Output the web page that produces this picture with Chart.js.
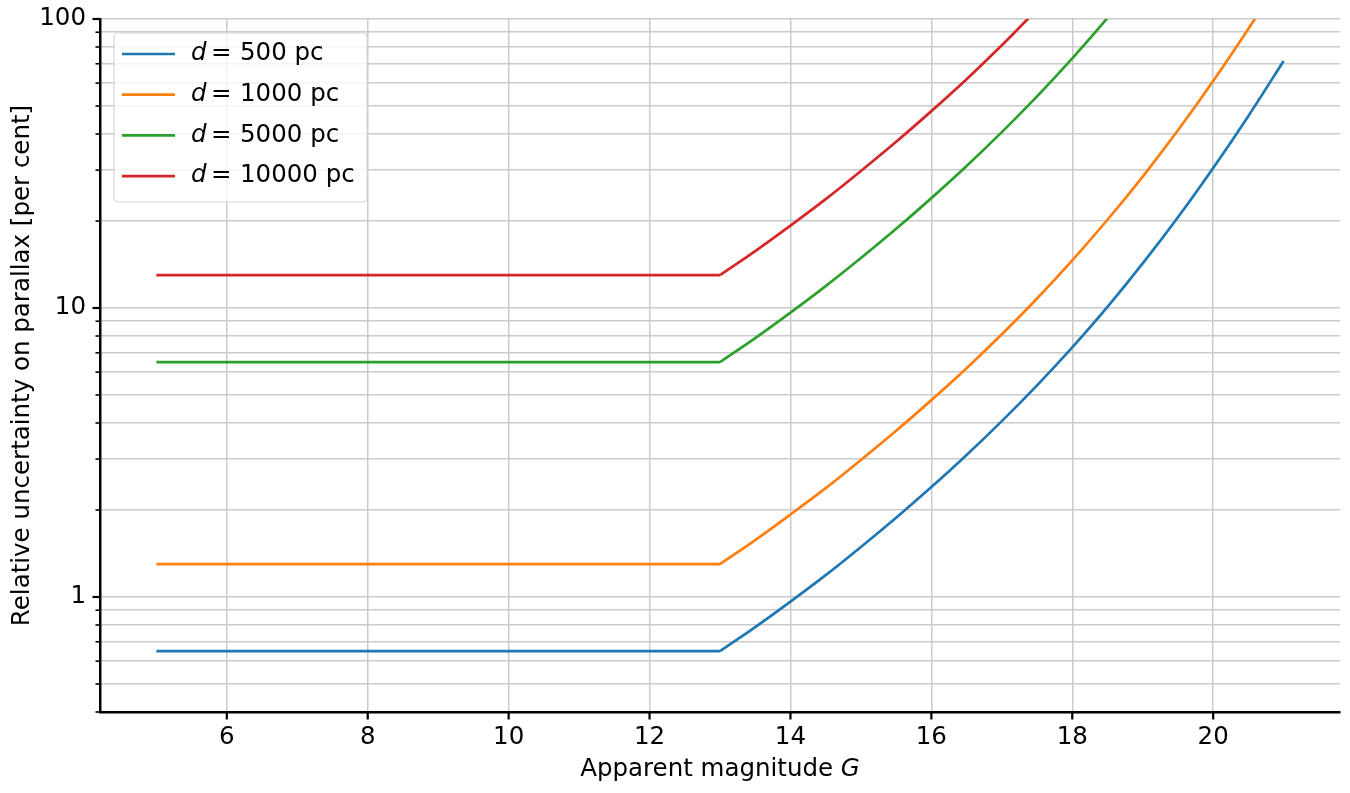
<!DOCTYPE html>
<html>
<head>
<meta charset="utf-8">
<script src="https://cdn.jsdelivr.net/npm/chart.js@4.4.0/dist/chart.umd.min.js"></script>
<style>
html, body { margin: 0; padding: 0; background: #fff; }
</style>
</head>
<body>
<canvas id="plxChart" width="1350" height="793"></canvas>
<script>
// apparent magnitude G (flat until G = 13, then rising)
const magnitudes = [5, 13, 13.5, 14, 14.5, 15, 15.5, 16, 16.5, 17, 17.5, 18, 18.5, 19, 19.5, 20, 20.5, 21];

// relative parallax uncertainty [per cent]
const sigma500   = [0.65, 0.65, 0.787, 0.964, 1.19, 1.49, 1.88, 2.40, 3.10, 4.06, 5.40, 7.31, 10.09, 14.26, 20.6, 30.5, 46.2, 71.6];
const sigma1000  = [1.3, 1.3, 1.574, 1.93, 2.38, 2.98, 3.76, 4.80, 6.19, 8.11, 10.79, 14.62, 20.2, 28.5, 41.2, 61.0, 92.5, 143];
const sigma5000  = [6.5, 6.5, 7.87, 9.64, 11.91, 14.89, 18.79, 24.0, 31.0, 40.6, 54.0, 73.1, 100.9, 142.6];
const sigma10000 = [13, 13, 15.74, 19.28, 23.8, 29.8, 37.6, 48.0, 61.9, 81.1, 107.9];

const distances = [500, 1000, 5000, 10000];
const colors = ['#1f77b4', '#ff7f0e', '#2ca02c', '#d62728'];

const xTicks = [6, 8, 10, 12, 14, 16, 18, 20];
const yTicks = [0.4, 0.5, 0.6, 0.7, 0.8, 0.9, 1, 2, 3, 4, 5, 6, 7, 8, 9, 10, 20, 30, 40, 50, 60, 70, 80, 90, 100];
const yLabels = [1, 10, 100];

const FONT = '"DejaVu Sans", "Liberation Sans", sans-serif';
const FS = 24.5;
const KNEE = 1; // index of G = 13 in magnitudes

function toPoints(vals, from, to) {
    return vals.slice(from, to).map((v, i) => ({ x: magnitudes[from + i], y: v }));
}

// tick marks like matplotlib: long major ticks, short minor ones
const tickMarks = {
    id: 'tickMarks',
    afterDatasetsDraw: function(chart) {
        const ctx = chart.ctx;
        const a = chart.chartArea;
        const xs = chart.scales.x, ys = chart.scales.y;
        ctx.save();
        ctx.strokeStyle = '#000';
        yTicks.forEach(v => {
            const major = yLabels.includes(v);
            const py = ys.getPixelForValue(v);
            ctx.lineWidth = major ? 2.2 : 1.6;
            ctx.beginPath();
            ctx.moveTo(a.left - (major ? 7.5 : 4.5), py);
            ctx.lineTo(a.left, py);
            ctx.stroke();
        });
        xTicks.forEach(v => {
            const px = xs.getPixelForValue(v);
            ctx.lineWidth = 2.2;
            ctx.beginPath();
            ctx.moveTo(px, a.bottom);
            ctx.lineTo(px, a.bottom + 7.5);
            ctx.stroke();
        });
        ctx.restore();
    }
};

// axis titles (x title has an italic G)
const axisTitles = {
    id: 'axisTitles',
    afterDraw: function(chart) {
        const ctx = chart.ctx;
        const a = chart.chartArea;
        ctx.save();
        ctx.fillStyle = '#000';
        ctx.textBaseline = 'alphabetic';
        const plain = 'Apparent magnitude ';
        ctx.font = FS + 'px ' + FONT;
        const w1 = ctx.measureText(plain).width;
        ctx.font = 'italic ' + FS + 'px ' + FONT;
        const w2 = ctx.measureText('G').width;
        const x0 = (a.left + a.right) / 2 - (w1 + w2) / 2;
        ctx.textAlign = 'left';
        ctx.font = FS + 'px ' + FONT;
        ctx.fillText(plain, x0, 776);
        ctx.font = 'italic ' + FS + 'px ' + FONT;
        ctx.fillText('G', x0 + w1, 776);

        ctx.translate(29, (a.top + a.bottom) / 2);
        ctx.rotate(-Math.PI / 2);
        ctx.textAlign = 'center';
        ctx.font = FS + 'px ' + FONT;
        ctx.fillText('Relative uncertainty on parallax [per cent]', 0, 0);
        ctx.restore();
    }
};

// legend box in the upper left corner
const legendBox = {
    id: 'legendBox',
    afterDraw: function(chart) {
        const ctx = chart.ctx;
        const bx = 114, by = 33, bw = 253, bh = 169;
        ctx.save();
        ctx.beginPath();
        ctx.roundRect(bx, by, bw, bh, 4);
        ctx.fillStyle = 'rgba(255,255,255,0.8)';
        ctx.fill();
        ctx.strokeStyle = '#d6d6d6';
        ctx.lineWidth = 1.2;
        ctx.stroke();
        distances.forEach((d, i) => {
            const y = 54 + i * 40.7;
            ctx.strokeStyle = colors[i];
            ctx.lineWidth = 2.7;
            ctx.beginPath();
            ctx.moveTo(122, y);
            ctx.lineTo(175, y);
            ctx.stroke();
            ctx.fillStyle = '#000';
            ctx.textBaseline = 'middle';
            ctx.textAlign = 'left';
            ctx.font = 'italic ' + FS + 'px ' + FONT;
            ctx.fillText('d', 191, y);
            ctx.font = FS + 'px ' + FONT;
            ctx.fillText('=', 211, y);
            ctx.fillText(d + ' pc', 240, y);
        });
        ctx.restore();
    }
};

const gridColor = '#cbcbcb';

// each series: flat part (straight) + rising part (smooth)
const datasets = [];
[sigma500, sigma1000, sigma5000, sigma10000].forEach((vals, i) => {
    datasets.push({
        label: 'd = ' + distances[i] + ' pc',
        data: toPoints(vals, 0, KNEE + 1),
        borderColor: colors[i],
        borderWidth: 2.7,
        pointRadius: 0,
        tension: 0,
        fill: false
    });
    datasets.push({
        label: 'd = ' + distances[i] + ' pc (rise)',
        data: toPoints(vals, KNEE, vals.length),
        borderColor: colors[i],
        borderWidth: 2.7,
        pointRadius: 0,
        cubicInterpolationMode: 'monotone',
        fill: false
    });
});

const ctx = document.getElementById('plxChart').getContext('2d');
const plxChart = new Chart(ctx, {
    type: 'line',
    data: { datasets: datasets },
    options: {
        responsive: false,
        animation: false,
        devicePixelRatio: 1,
        layout: { padding: { left: 0, right: 10, top: 19, bottom: 0 } },
        plugins: {
            legend: { display: false },
            tooltip: { enabled: false }
        },
        scales: {
            x: {
                type: 'linear',
                min: 4.2,
                max: 21.8,
                afterBuildTicks: function(scale) {
                    scale.ticks = xTicks.map(v => ({ value: v }));
                },
                afterFit: function(scale) {
                    scale.height = 81;
                    scale.paddingLeft = 0;
                    scale.paddingRight = 0;
                },
                grid: { color: gridColor, lineWidth: 1.5, drawTicks: false },
                border: { color: '#000', width: 2.5 },
                ticks: {
                    color: '#000',
                    font: { family: FONT, size: FS },
                    padding: 11,
                    maxRotation: 0,
                    autoSkip: false,
                    callback: v => String(v)
                }
            },
            y: {
                type: 'logarithmic',
                min: 0.4,
                max: 100,
                afterBuildTicks: function(scale) {
                    scale.ticks = yTicks.map(v => ({ value: v }));
                },
                afterFit: function(scale) {
                    scale.width = 100;
                    scale.paddingTop = 0;
                    scale.paddingBottom = 0;
                },
                grid: { color: gridColor, lineWidth: 1.5, drawTicks: false },
                border: { color: '#000', width: 2.5 },
                ticks: {
                    color: '#000',
                    font: { family: FONT, size: FS },
                    padding: 14,
                    autoSkip: false,
                    callback: v => (yLabels.includes(v) ? String(v) : '')
                }
            }
        }
    },
    plugins: [tickMarks, axisTitles, legendBox]
});
</script>
</body>
</html>
